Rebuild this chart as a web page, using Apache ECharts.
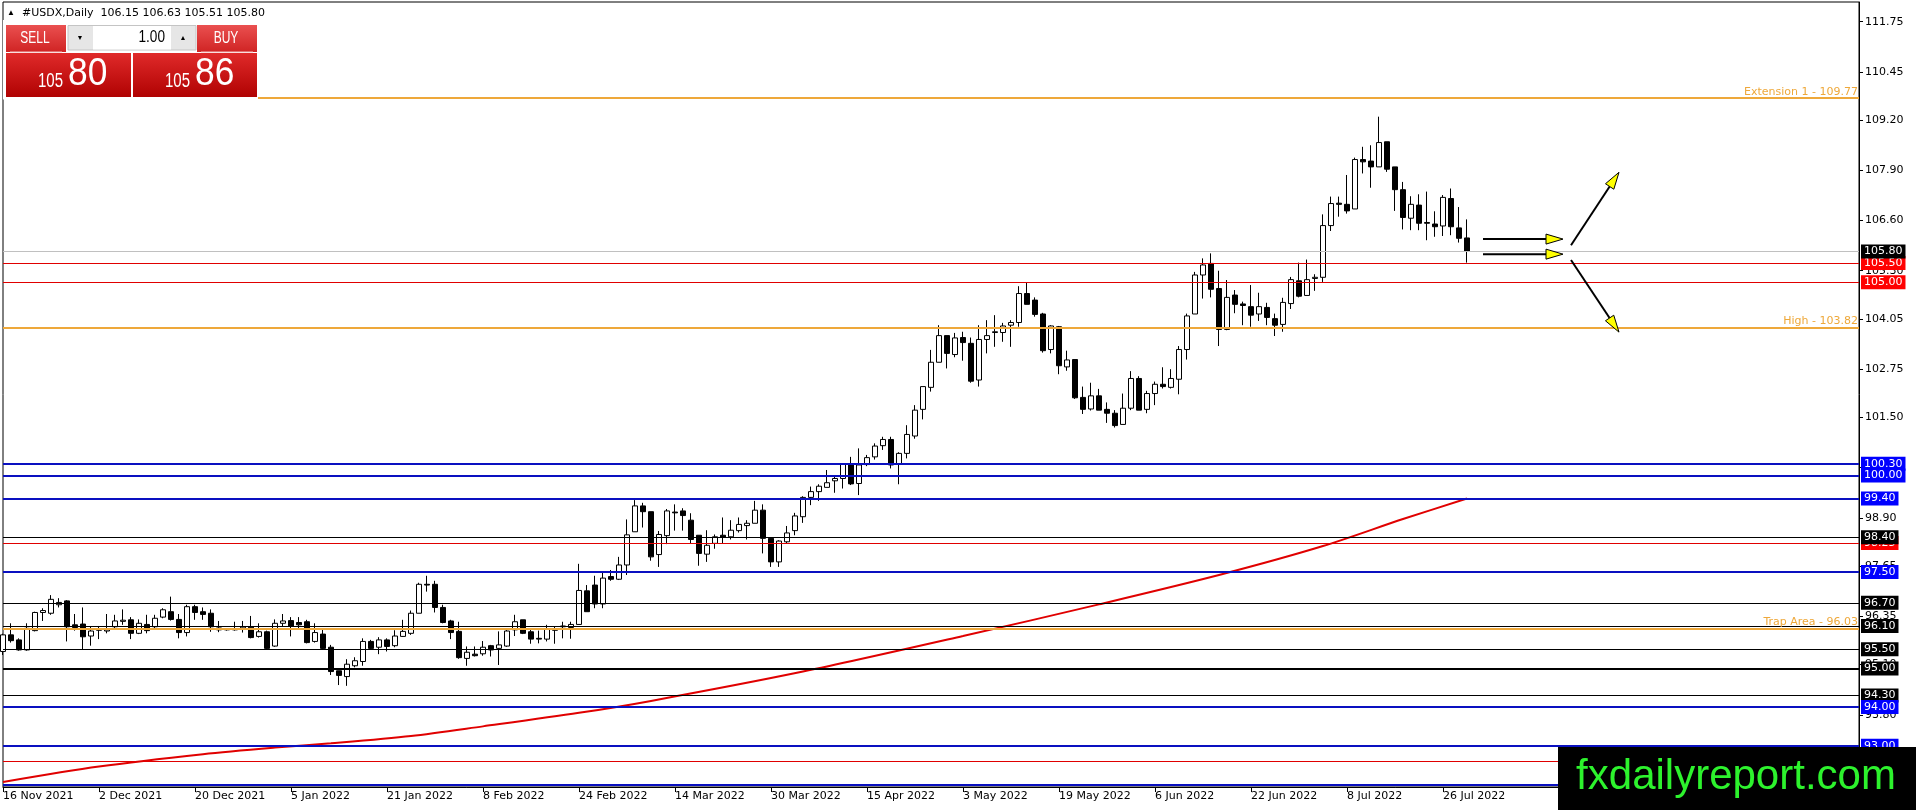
<!DOCTYPE html>
<html>
<head>
<meta charset="utf-8">
<script src="https://cdn.jsdelivr.net/npm/echarts@6.0.0/dist/echarts.min.js"></script>
<style>
  html, body { margin: 0; padding: 0; background: #fff; }
  #chart { width: 1916px; height: 810px; }
</style>
</head>
<body>
<div id="chart"></div>
<script>
// USDX daily candles, 16 Nov 2021 .. 29 Jul 2022 (one row = 12 bars)
var openP = [
  95.44,95.87,95.74,95.48,95.98,96.45,96.43,96.65,96.75,96.13,96.15,95.84,
  95.99,95.97,96.08,96.22,96.26,95.91,96.14,96.08,96.33,96.47,96.27,95.93,
  96.60,96.47,96.43,96.05,96.00,96.00,96.03,96.07,95.83,95.95,95.58,96.17,
  96.24,96.19,96.21,95.70,95.89,95.55,94.94,94.79,95.07,95.18,95.70,95.55,
  95.74,95.59,95.83,95.91,96.43,97.18,97.18,96.58,96.23,95.96,95.26,95.37,
  95.38,95.59,95.52,95.58,96.00,96.26,95.95,95.78,95.76,95.99,96.08,96.06,
  96.14,97.01,97.16,96.67,97.38,97.31,97.68,98.54,99.21,99.06,97.95,98.44,
  99.05,99.08,98.84,98.45,97.96,98.24,98.45,98.41,98.57,98.70,98.76,99.10,
  98.37,97.76,98.28,98.57,98.93,99.43,99.58,99.69,99.86,99.92,100.28,99.79,
  100.28,100.48,100.77,100.93,100.29,100.57,101.02,101.71,102.28,102.93,103.62,103.13,
  103.57,103.42,102.47,103.52,103.70,103.70,103.89,103.96,104.71,104.54,104.18,103.26,
  103.85,102.81,103.00,102.02,101.72,102.06,101.71,101.61,101.32,101.74,102.51,101.71,
  102.12,102.36,102.28,102.49,103.26,104.18,105.19,105.49,104.84,103.78,104.67,104.44,
  104.37,104.18,104.35,104.06,103.91,104.45,105.04,104.66,105.10,105.13,106.47,107.05,
  107.02,106.90,108.18,108.14,107.99,108.64,107.99,107.40,106.66,107.00,106.55,106.51,
  106.46,107.17,106.41,106.15
];
var highP = [
  95.90,96.17,95.78,96.17,96.47,96.56,96.90,96.82,96.77,96.41,96.58,96.08,
  96.10,96.41,96.39,96.53,96.33,96.27,96.39,96.39,96.56,96.86,96.41,96.65,
  96.65,96.58,96.53,96.23,96.02,96.21,96.23,96.36,96.17,95.98,96.27,96.41,
  96.33,96.33,96.26,96.17,96.00,95.61,94.94,95.24,95.29,95.78,95.74,95.81,
  95.78,95.99,96.26,96.50,97.22,97.40,97.27,96.65,96.26,96.21,95.57,95.57,
  95.71,95.61,95.96,96.00,96.39,96.26,96.00,95.98,96.13,96.08,96.21,96.21,
  97.71,97.16,97.40,97.51,97.55,97.89,98.86,99.36,99.29,99.06,98.56,99.13,
  99.25,99.15,99.02,98.45,98.58,98.47,98.91,98.84,98.91,98.84,99.34,99.25,
  98.37,98.32,98.69,99.03,99.46,99.71,99.77,100.14,99.97,100.29,100.48,100.70,
  100.53,100.83,101.00,101.00,100.60,101.30,101.82,102.30,103.25,103.89,103.62,103.69,
  103.72,103.57,103.89,104.02,104.15,103.95,104.02,104.90,104.99,104.61,104.21,103.89,
  103.87,103.23,103.00,102.30,102.40,102.24,101.89,101.69,102.12,102.70,102.57,102.19,
  102.43,102.80,102.75,103.35,104.19,105.27,105.62,105.75,105.30,105.06,104.80,104.50,
  104.93,104.73,104.47,104.19,104.60,105.14,105.51,105.59,105.21,106.76,107.22,107.22,
  107.78,108.23,108.51,108.55,109.29,108.64,107.99,107.60,107.23,107.28,107.35,106.84,
  107.26,107.43,106.95,106.63
];
var lowP = [
  95.35,95.67,95.46,95.46,95.96,96.23,96.39,96.58,95.70,95.98,95.48,95.59,
  95.76,95.91,96.04,96.13,95.76,95.89,95.91,96.04,96.30,96.24,95.78,95.83,
  96.26,96.26,95.95,95.94,95.98,95.98,95.93,95.78,95.80,95.50,95.56,96.08,
  95.83,96.00,95.65,95.67,95.50,94.83,94.57,94.55,95.03,95.07,95.48,95.37,
  95.44,95.55,95.82,95.87,96.43,96.99,96.45,96.17,95.76,95.25,95.07,95.31,
  95.33,95.31,95.09,95.56,95.84,95.89,95.64,95.65,95.70,95.64,95.78,95.77,
  96.14,96.47,96.56,96.56,97.27,97.29,97.42,98.54,98.65,97.79,97.63,98.22,
  98.57,98.57,98.24,97.66,97.76,98.10,98.24,98.34,98.52,98.34,98.76,97.98,
  97.63,97.63,98.24,98.45,98.77,99.23,99.34,99.69,99.55,99.66,99.75,99.49,
  100.24,100.41,100.66,100.18,99.77,100.44,100.95,101.45,102.17,102.93,102.77,103.06,
  102.97,102.40,102.30,103.16,103.33,103.46,103.33,103.85,104.43,104.11,103.18,103.16,
  102.62,102.71,101.98,101.59,101.68,101.69,101.36,101.24,101.32,101.69,101.69,101.61,
  101.82,102.25,102.25,102.10,103.00,104.18,104.58,104.61,103.35,103.76,104.20,103.89,
  103.85,104.00,103.89,103.61,103.72,104.31,104.61,104.66,104.78,105.01,106.33,106.70,
  106.78,106.90,107.82,107.45,107.99,107.86,106.85,106.37,106.35,106.35,106.09,106.18,
  106.20,106.22,106.03,105.51
];
var closeP = [
  95.87,95.72,95.48,96.04,96.45,96.50,96.79,96.71,96.08,96.06,95.82,95.97,
  96.00,96.00,96.23,96.25,95.91,96.17,95.98,96.30,96.52,96.27,95.93,96.60,
  96.45,96.40,96.08,96.00,96.01,96.02,96.07,95.80,95.95,95.52,96.17,96.23,
  96.10,96.13,95.67,95.93,95.52,94.92,94.82,95.11,95.20,95.70,95.52,95.74,
  95.57,95.84,95.96,96.43,97.18,97.16,96.58,96.19,95.93,95.28,95.42,95.33,
  95.55,95.48,95.61,95.97,96.21,95.91,95.76,95.76,96.02,96.00,96.10,96.14,
  97.02,96.47,96.67,97.34,97.31,97.68,98.46,99.21,99.06,97.89,98.47,99.08,
  99.03,98.96,98.34,97.98,98.19,98.41,98.40,98.58,98.73,98.76,99.10,98.37,
  97.76,98.30,98.51,98.95,99.43,99.58,99.72,99.81,99.92,100.29,99.78,100.27,
  100.46,100.76,100.93,100.27,100.57,101.06,101.69,102.30,102.93,103.62,103.16,103.56,
  103.44,102.44,103.52,103.62,103.72,103.87,103.96,104.71,104.43,104.17,103.23,103.87,
  102.84,102.99,102.01,101.71,102.06,101.69,101.61,101.29,101.74,102.51,101.69,102.12,
  102.36,102.30,102.51,103.26,104.13,105.19,105.45,104.82,103.78,104.61,104.43,104.40,
  104.15,104.37,104.09,103.89,104.48,105.07,104.64,105.07,105.13,106.47,107.04,107.02,
  106.85,108.18,108.12,107.99,108.62,107.93,107.40,106.68,107.02,106.53,106.53,106.44,
  107.20,106.44,106.14,105.80
];

// red trend curve, read at a few bars: [bar index, price]
var maIdx = [0, 12, 25, 34, 41, 51, 60, 72, 81, 100, 120, 137, 152, 165, 175, 183];
var maVal = [92.06, 92.46, 92.78, 92.95, 93.06, 93.25, 93.50, 93.85, 94.16, 94.92, 95.84, 96.66, 97.42, 98.17, 98.87, 99.40];

// bottom labels, one every 12 bars
var xTickLabels = ['16 Nov 2021', '2 Dec 2021', '20 Dec 2021', '5 Jan 2022', '21 Jan 2022', '8 Feb 2022',
  '24 Feb 2022', '14 Mar 2022', '30 Mar 2022', '15 Apr 2022', '3 May 2022', '19 May 2022',
  '6 Jun 2022', '22 Jun 2022', '8 Jul 2022', '26 Jul 2022'];
var yTicks = [92.50, 93.80, 95.10, 96.35, 97.65, 98.90, 100.20, 101.50, 102.75, 104.05, 105.30, 106.60, 107.90, 109.20, 110.45, 111.75];

// horizontal levels
var blueLevels = [100.30, 100.00, 99.40, 97.50, 94.00, 93.00, 92.00];
var blackLevels = [96.70, 96.10, 95.50, 94.30];
var heavyLevels = [95.00];
var redLevels = [105.50, 105.00, 92.60];
var red2Level = 98.25, black2Level = 98.40;
var bidPrice = 105.80;
var fibNames = ['Extension 1', 'High', 'Trap Area'];
var fibValues = [109.77, 103.82, 96.03];

// drawn arrows: [bar, price] -> [bar, price]
var arrowFrom = [[185, 106.12], [185, 105.73], [196, 105.96], [196, 105.58]];
var arrowTo = [[195, 106.12], [195, 105.73], [202, 107.85], [202, 103.71]];

// panel quote
var quoteHeader = '#USDX,Daily  106.15 106.63 105.51 105.80';
var lotSize = '1.00';
var bidBig = '105', bidPips = '80', askBig = '105', askPips = '86';

var nSlots = 233;
var slots = [];
for (var i = 0; i < nSlots; i++) slots.push(String(i));

var candles = [];
for (var i = 0; i < openP.length; i++) candles.push([openP[i], closeP[i], lowP[i], highP[i]]);
var maData = maIdx.map(function (x, k) { return [x, maVal[k]]; });
var arrowData = arrowFrom.map(function (a, k) { return [a[0], a[1], arrowTo[k][0], arrowTo[k][1]]; });

var ORANGE = '#eea83a', BLUE_LINE = '#0a10c0', BLUE_BOX = '#0000ff', RED = '#e00000';

function level(v, color, width, box) {
  return {
    yAxis: v,
    lineStyle: { color: color, width: width, type: 'solid' },
    label: box ? {
      show: true, position: 'end', formatter: v.toFixed(2), color: '#fff',
      backgroundColor: box, padding: [2, 3, 1, 3], fontSize: 11, distance: 2
    } : { show: false }
  };
}

var lines = [];
redLevels.forEach(function (v) { lines.push(level(v, RED, 1, '#ff0000')); });
lines.push(level(red2Level, RED, 1, '#ff0000'));
lines.push(level(black2Level, '#000', 1, '#000'));
blackLevels.forEach(function (v) { lines.push(level(v, '#000', 1, '#000')); });
heavyLevels.forEach(function (v) { lines.push(level(v, '#000', 2, '#000')); });
blueLevels.forEach(function (v) { lines.push(level(v, BLUE_LINE, 2, BLUE_BOX)); });
fibValues.forEach(function (v, k) {
  lines.push({
    yAxis: v,
    lineStyle: { color: ORANGE, width: 2, type: 'solid' },
    label: { show: true, position: 'insideEndTop', formatter: fibNames[k] + ' - ' + v.toFixed(2), color: ORANGE, fontSize: 11, distance: 1 }
  });
});
lines.push(level(bidPrice, '#c0c0c0', 1, '#000'));

var chart = echarts.init(document.getElementById('chart'));

var redTop = { type: 'linear', x: 0, y: 0, x2: 0, y2: 1, colorStops: [{ offset: 0, color: '#ea5050' }, { offset: 1, color: '#d02424' }] };
var redBig = { type: 'linear', x: 0, y: 0, x2: 0, y2: 1, colorStops: [{ offset: 0, color: '#e02a2a' }, { offset: 1, color: '#b00202' }] };
var PF = "'Liberation Sans', Arial, sans-serif";

function panelText(txt, x, y, size, align, sx, color) {
  return { type: 'text', z: 101, x: x, y: y, scaleX: sx,
    style: { text: txt, fill: color || '#fff', fontSize: size, fontFamily: PF, align: align, verticalAlign: 'middle' } };
}

var option = {
  animation: false,
  backgroundColor: '#fff',
  textStyle: { fontFamily: 'DejaVu Sans' },
  grid: { left: 3, right: 57, top: 2, bottom: 23, show: true, borderColor: '#000', borderWidth: 1, backgroundColor: '#fff' },
  xAxis: {
    type: 'category',
    data: slots,
    boundaryGap: false,
    axisLine: { lineStyle: { color: '#000', width: 1 } },
    axisTick: {
      interval: function (i) { return i % 12 === 0 && i < openP.length; },
      length: 5, lineStyle: { color: '#000' }
    },
    axisLabel: {
      interval: function (i) { return i % 12 === 0 && i < openP.length; },
      formatter: function (v, i) { return xTickLabels[i / 12] || ''; },
      align: 'left', margin: 4, color: '#000', fontSize: 11, fontFamily: 'DejaVu Sans'
    },
    splitLine: { show: false }
  },
  yAxis: {
    type: 'value',
    position: 'right',
    min: 91.93,
    max: 112.26,
    splitLine: { show: false },
    axisLine: { show: true, lineStyle: { color: '#000' } },
    axisTick: { show: true, customValues: yTicks, length: 4, lineStyle: { color: '#000' } },
    axisLabel: {
      customValues: yTicks, margin: 6, color: '#000', fontSize: 11, fontFamily: 'DejaVu Sans',
      formatter: function (v) { return v.toFixed(2); }
    }
  },
  series: [
    {
      type: 'candlestick',
      data: candles,
      barWidth: 5,
      itemStyle: { color: '#fff', color0: '#000', borderColor: '#000', borderColor0: '#000', borderWidth: 1 },
      markLine: { symbol: ['none', 'none'], silent: true, animation: false, data: lines }
    },
    {
      type: 'line',
      data: maData,
      showSymbol: false,
      smooth: 0.3,
      lineStyle: { color: RED, width: 2 },
      z: 3
    },
    {
      type: 'custom',
      data: arrowData,
      encode: { x: [0, 2], y: [1, 3] },
      z: 5,
      renderItem: function (params, api) {
        var p0 = api.coord([api.value(0), api.value(1)]);
        var p1 = api.coord([api.value(2), api.value(3)]);
        var dx = p1[0] - p0[0], dy = p1[1] - p0[1];
        var len = Math.sqrt(dx * dx + dy * dy), ux = dx / len, uy = dy / len;
        var hl = 17, hw = 5;
        var bx = p1[0] - ux * hl, by = p1[1] - uy * hl;
        return {
          type: 'group',
          children: [
            { type: 'line', shape: { x1: p0[0], y1: p0[1], x2: bx, y2: by }, style: { stroke: '#000', lineWidth: 2 } },
            { type: 'polygon', shape: { points: [p1, [bx - uy * hw, by + ux * hw], [bx + uy * hw, by - ux * hw]] },
              style: { fill: '#ffff00', stroke: '#000', lineWidth: 1 } }
          ]
        };
      }
    }
  ],
  graphic: [
    // header
    { type: 'text', x: 11, y: 13, z: 100, style: { text: '▲', fontSize: 8, fill: '#000', align: 'center', verticalAlign: 'middle' } },
    { type: 'text', x: 22, y: 13, z: 100, style: { text: quoteHeader, fontSize: 11, fontFamily: 'DejaVu Sans', fill: '#000', verticalAlign: 'middle' } },
    // one-click trade panel
    { type: 'rect', z: 99, shape: { x: 3, y: 20, width: 255, height: 79.5 }, style: { fill: '#fff' } },
    { type: 'rect', z: 100, shape: { x: 6, y: 25, width: 60, height: 27 }, style: { fill: redTop } },
    { type: 'line', z: 101, shape: { x1: 10, y1: 52, x2: 62, y2: 52 }, style: { stroke: '#f3c0c0', lineWidth: 1 } },
    panelText('SELL', 35, 39, 16, 'center', 0.75),
    { type: 'rect', z: 100, shape: { x: 68, y: 25.5, width: 128, height: 24.5 }, style: { fill: '#e6e6e6', stroke: '#c4c4c4', lineWidth: 1 } },
    { type: 'rect', z: 101, shape: { x: 93, y: 26, width: 78, height: 23.5 }, style: { fill: '#fff' } },
    { type: 'text', z: 101, x: 80, y: 38, style: { text: '▼', fill: '#000', fontSize: 7, align: 'center', verticalAlign: 'middle' } },
    { type: 'text', z: 101, x: 183, y: 38, style: { text: '▲', fill: '#000', fontSize: 7, align: 'center', verticalAlign: 'middle' } },
    panelText(lotSize, 165, 38, 16, 'right', 0.85, '#000'),
    { type: 'rect', z: 100, shape: { x: 197, y: 25, width: 60, height: 27 }, style: { fill: redTop } },
    { type: 'line', z: 101, shape: { x1: 201, y1: 52, x2: 253, y2: 52 }, style: { stroke: '#f3c0c0', lineWidth: 1 } },
    panelText('BUY', 226, 39, 16, 'center', 0.75),
    { type: 'rect', z: 100, shape: { x: 6, y: 53, width: 125, height: 44 }, style: { fill: redBig } },
    { type: 'rect', z: 100, shape: { x: 133, y: 53, width: 124, height: 44 }, style: { fill: redBig } },
    panelText(bidBig, 63, 81, 20, 'right', 0.75),
    panelText(bidPips, 68, 75, 38, 'left', 0.93),
    panelText(askBig, 190, 81, 20, 'right', 0.75),
    panelText(askPips, 195, 75, 38, 'left', 0.93),
    // watermark
    { type: 'rect', z: 110, shape: { x: 1558, y: 747, width: 358, height: 63 }, style: { fill: '#000' } },
    { type: 'text', z: 111, x: 1736, y: 777, style: { text: 'fxdailyreport.com', fill: '#2df22d', fontSize: 42, fontFamily: 'Liberation Sans', align: 'center', verticalAlign: 'middle' } }
  ]
};

chart.setOption(option);
</script>
</body>
</html>
